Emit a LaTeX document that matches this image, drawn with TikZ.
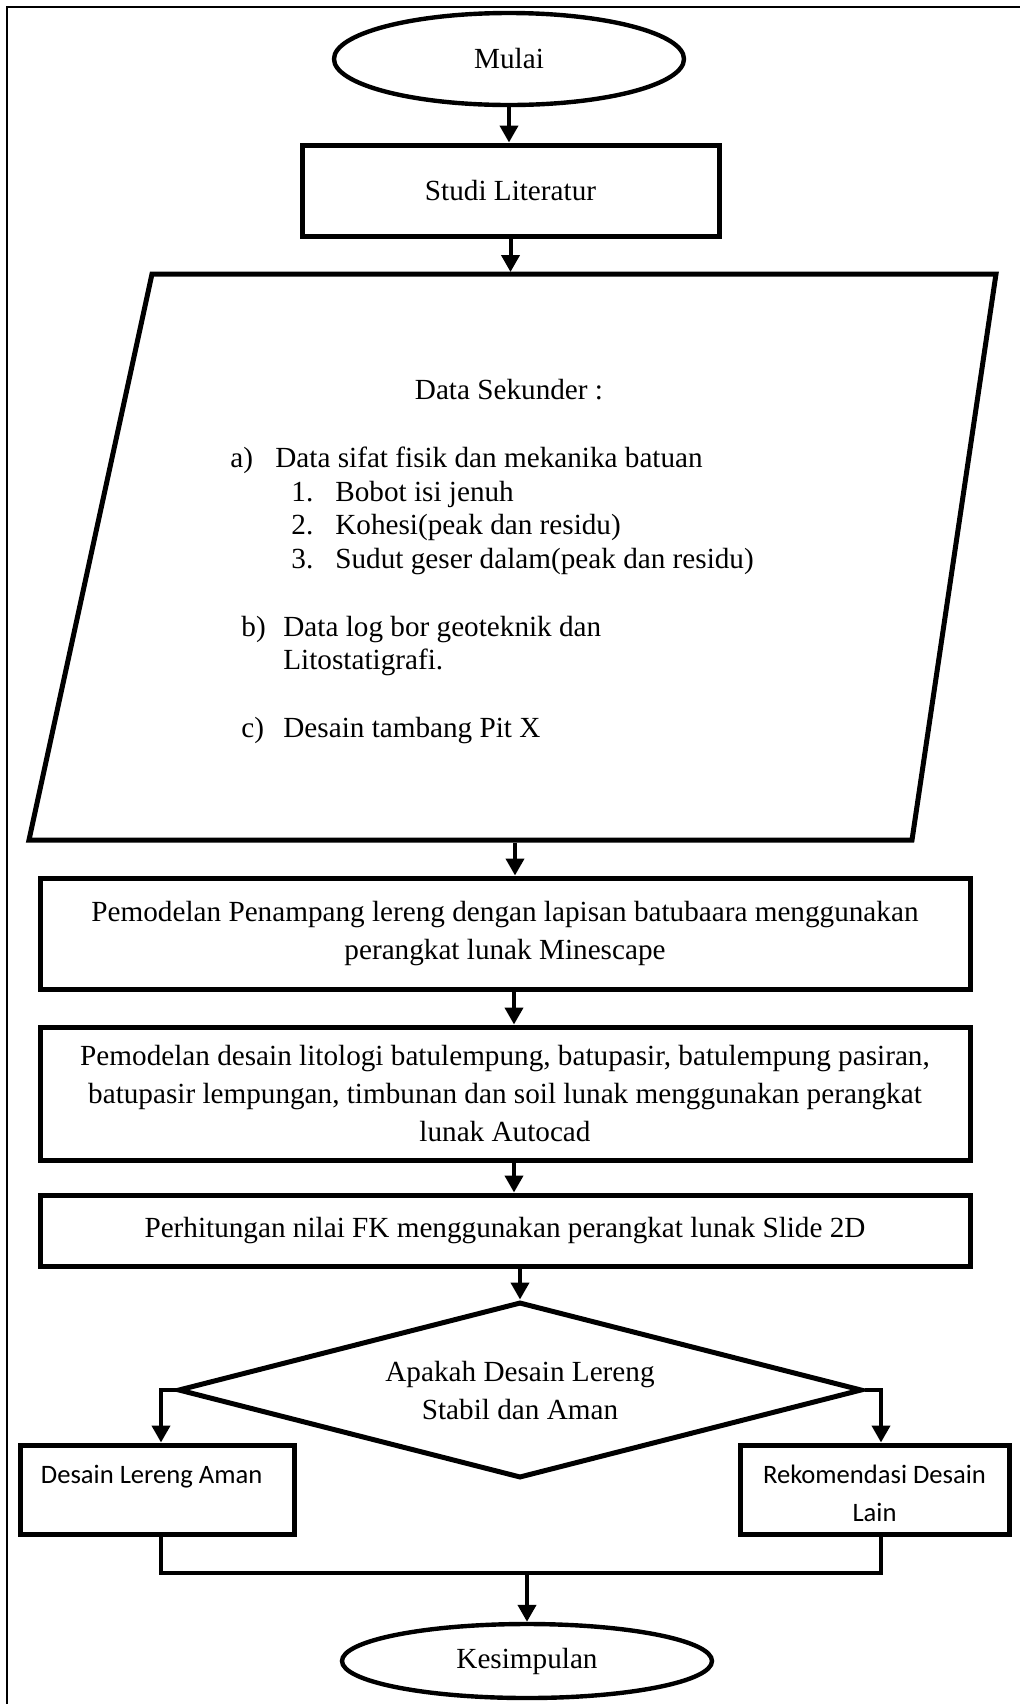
\documentclass[tikz,border=0pt]{standalone}
\usepackage{fontspec}
\setmainfont{Liberation Serif}
\newfontfamily\calibri{Carlito}
\usetikzlibrary{shapes.geometric,arrows.meta}

\begin{document}
\begin{tikzpicture}[x=1pt, y=-1pt,
      every node/.style = {align=center, inner sep=0pt,
        font=\fontsize{14.6}{19}\selectfont},
      proc/.style = {draw, rectangle, line width=2.5pt},
      term/.style = {draw, ellipse, line width=2.2pt},
      pilih/.style = {draw, diamond, aspect=3.9, line width=2.5pt},
      kotak/.style = {proc, font=\calibri\fontsize{13.3}{19}\selectfont},
      flow/.style = {line width=2pt, -{Triangle[length=8.5pt, width=9pt]}},
      link/.style = {line width=2pt}]
    \useasboundingbox (0,0) rectangle (510,852);
    \draw[line width=0.9pt] (3.5,852) -- (3.5,3.3) -- (510,3.3);

    \node[term, minimum width=175pt, minimum height=46pt] (mulai) at (254.5,29.5) {Mulai};
    \node[proc, minimum width=208.5pt, minimum height=45.5pt] (studi) at (255.25,95.25) {Studi Literatur};

    % data sekunder
    \draw[line width=2.5pt] (76,137) -- (498,137) -- (456,420) -- (14.5,420) -- cycle;
    \coordinate (dTop) at (255,136);
    \coordinate (dBot) at (257.5,421.25);
    \node (dsjudul) at (254.5,195) {Data Sekunder :};
    \node[anchor=base west] (dsa) at (115,233.5) {\makebox[22.5pt][l]{a)}Data sifat fisik dan mekanika batuan};
    \node[anchor=base west] (dsa1) at (145.5,250.5) {\makebox[22pt][l]{1.}Bobot isi jenuh};
    \node[anchor=base west] (dsa2) at (145.5,267) {\makebox[22pt][l]{2.}Kohesi(peak dan residu)};
    \node[anchor=base west] (dsa3) at (145.5,284) {\makebox[22pt][l]{3.}Sudut geser dalam(peak dan residu)};
    \node[anchor=base west] (dsb) at (120.5,318) {\makebox[21pt][l]{b)}Data log bor geoteknik dan};
    \node[anchor=base west] (dsb2) at (141.5,334.5) {Litostatigrafi.};
    \node[anchor=base west] (dsc) at (120.5,368.5) {\makebox[21pt][l]{c)}Desain tambang Pit X};

    \node[proc, minimum width=465pt, minimum height=55.5pt] (model) at (252.5,466.75)
      {Pemodelan Penampang lereng dengan lapisan batubaara menggunakan\\ perangkat lunak Minescape};
    \node[proc, minimum width=465pt, minimum height=66.5pt] (litologi) at (252.5,546.75)
      {Pemodelan desain litologi batulempung, batupasir, batulempung pasiran,\\ batupasir lempungan, timbunan dan soil lunak menggunakan perangkat\\ lunak Autocad};
    \node[proc, minimum width=465pt, minimum height=35.5pt] (fk) at (252.5,615.25)
      {Perhitungan nilai FK menggunakan perangkat lunak Slide 2D};
    \node[pilih, minimum width=342pt, minimum height=88pt] (cek) at (260,695)
      {Apakah Desain Lereng\\ Stabil dan Aman};

    \node[kotak, minimum width=137pt, minimum height=44.5pt] (aman) at (78.5,744.75)
      {\rule{0pt}{18.7pt}Desain Lereng Aman\hspace*{5.4pt}\\ \strut};
    \node[kotak, minimum width=134.5pt, minimum height=44.5pt] (lain) at (437.25,744.75)
      {\rule{0pt}{18.7pt}Rekomendasi Desain\\ \strut Lain};
    \node[term, minimum width=185pt, minimum height=37pt] (selesai) at (263.5,830.5) {Kesimpulan};

    \coordinate (kiri) at (80.5,695);
    \coordinate (kanan) at (440.5,695);
    \coordinate (gabung) at (263.5,786.5);

    \draw[flow] (mulai.south) -- (mulai.south |- studi.north);
    \draw[flow] (studi.south) -- (studi.south |- dTop);
    \draw[flow] (dBot) -- (dBot |- model.north);
    \draw[flow] ([xshift=4.5pt]model.south) -- ([xshift=4.5pt]litologi.north);
    \draw[flow] ([xshift=4.5pt]litologi.south) -- ([xshift=4.5pt]fk.north);
    \draw[flow] (cek.north |- fk.south) -- (cek.north);
    \draw[flow] (cek.west) -- (kiri) -- (kiri |- aman.north);
    \draw[flow] (cek.east) -- (kanan) -- (kanan |- lain.north);
    \draw[link] (aman.south -| kiri) -- (kiri |- gabung) -- (kanan |- gabung) -- (lain.south -| kanan);
    \draw[flow] (gabung) -- (selesai.north);
\end{tikzpicture}
\end{document}
